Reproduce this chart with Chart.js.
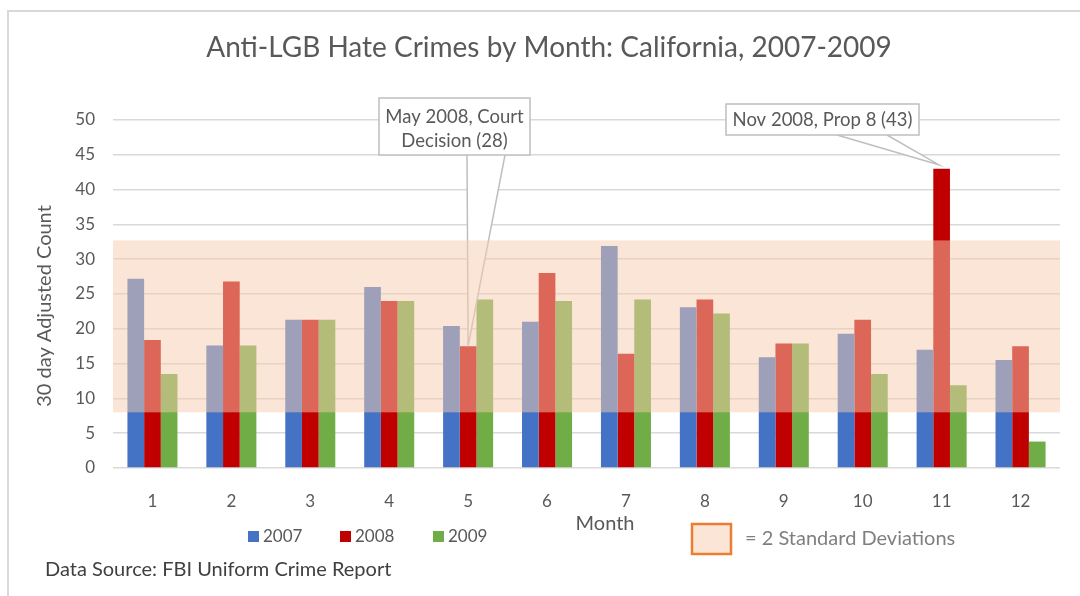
<!DOCTYPE html>
<html>
<head>
<meta charset="utf-8">
<script src="https://cdn.jsdelivr.net/npm/chart.js@4"></script>
<style>
  body { margin: 0; background: #fff; }
  canvas { display: block; }
</style>
</head>
<body>
<canvas id="chart" width="1080" height="596"></canvas>
<script>
// values
const months = ["1", "2", "3", "4", "5", "6", "7", "8", "9", "10", "11", "12"];
const counts2007 = [27.2, 17.6, 21.3, 26.0, 20.4, 21.0, 31.9, 23.1, 15.9, 19.3, 17.0, 15.5];
const counts2008 = [18.4, 26.8, 21.3, 24.0, 17.5, 28.0, 16.4, 24.2, 17.9, 21.3, 43.0, 17.5];
const counts2009 = [13.5, 17.6, 21.3, 24.0, 24.2, 24.0, 24.2, 22.2, 17.9, 13.5, 11.9, 3.8];
const bandLow = 8;
const bandHigh = 32.7;
const calloutText = [
  ["May 2008, Court", "Decision (28)"],
  ["Nov 2008, Prop 8 (43)"],
];
const calloutIndex = [4, 10];

const FONT = "Lato";
const GREY = "#595959";

const extras = {
  id: "extras",
  afterDatasetsDraw(chart) {
    const { ctx, chartArea: area, scales } = chart;
    const meta = chart.getDatasetMeta(1);

    // callouts (box + wedge pointing at the 2008 bar)
    const boxes = [
      { x: 379, y: 98, w: 151, h: 57, b1: 467, b2: 505, gap: 0, lineY: [117, 141] },
      { x: 726, y: 104, w: 193, h: 31, b1: 837, b2: 887, gap: 4, lineY: [120] },
    ];
    ctx.save();
    boxes.forEach((b, i) => {
      const bar = meta.data[calloutIndex[i]];
      const tipX = bar.x - (i === 1 ? 3 : 0);
      const tipY = bar.y - b.gap;
      ctx.beginPath();
      ctx.moveTo(b.b1, b.y + b.h - 1);
      ctx.lineTo(tipX, tipY);
      ctx.lineTo(b.b2, b.y + b.h - 1);
      ctx.closePath();
      ctx.fillStyle = "#fff";
      ctx.fill();
      ctx.beginPath();
      ctx.moveTo(b.b1, b.y + b.h);
      ctx.lineTo(tipX, tipY);
      ctx.lineTo(b.b2, b.y + b.h);
      ctx.strokeStyle = "#BFBFBF";
      ctx.lineWidth = 1.5;
      ctx.stroke();

      ctx.fillStyle = "#fff";
      ctx.fillRect(b.x, b.y, b.w, b.h);
      ctx.strokeRect(b.x, b.y, b.w, b.h);

      ctx.fillStyle = GREY;
      ctx.font = "18.5px " + FONT;
      ctx.textAlign = "center";
      ctx.textBaseline = "middle";
      calloutText[i].forEach((t, k) => ctx.fillText(t, b.x + b.w / 2, b.lineY[k]));
    });

    // 2 standard deviation band over the bars
    const top = scales.y.getPixelForValue(bandHigh);
    const bottom = scales.y.getPixelForValue(bandLow);
    ctx.fillStyle = "rgba(248, 203, 173, 0.5)";
    ctx.fillRect(area.left, top, area.right - area.left, bottom - top);
    ctx.restore();
  },
  afterDraw(chart) {
    const { ctx } = chart;
    ctx.save();
    ctx.textBaseline = "middle";

    // title
    ctx.textAlign = "center";
    ctx.fillStyle = GREY;
    ctx.font = "28px " + FONT;
    ctx.fillText("Anti-LGB Hate Crimes by Month: California, 2007-2009", 549, 48);

    // y axis title
    ctx.save();
    ctx.translate(45, 306);
    ctx.rotate(-Math.PI / 2);
    ctx.font = "20px " + FONT;
    ctx.fillText("30 day Adjusted Count", 0, 0);
    ctx.restore();

    // x axis title
    ctx.font = "20px " + FONT;
    ctx.fillText("Month", 605, 524);

    // series legend
    const legendX = [248, 340, 433];
    ctx.textAlign = "left";
    ctx.font = "17px " + FONT;
    chart.data.datasets.forEach((ds, i) => {
      ctx.fillStyle = ds.backgroundColor;
      ctx.fillRect(legendX[i], 531, 11, 11);
      ctx.fillStyle = GREY;
      ctx.fillText(ds.label, legendX[i] + 15, 537);
    });

    // band legend
    ctx.fillStyle = "#FBE5D6";
    ctx.fillRect(692, 524, 39, 30);
    ctx.strokeStyle = "#ED7D31";
    ctx.lineWidth = 2.5;
    ctx.strokeRect(692, 524, 39, 30);
    ctx.fillStyle = "#7F7F7F";
    ctx.font = "20px " + FONT;
    ctx.fillText("= 2 Standard Deviations", 745, 539);

    // source note
    ctx.fillStyle = "#404040";
    ctx.font = "20px " + FONT;
    ctx.fillText("Data Source: FBI Uniform Crime Report", 45, 570);

    // frame
    ctx.strokeStyle = "#D9D9D9";
    ctx.lineWidth = 2;
    ctx.beginPath();
    ctx.moveTo(8, 596);
    ctx.lineTo(8, 11);
    ctx.lineTo(1080, 11);
    ctx.stroke();
    ctx.restore();
  },
};

new Chart(document.getElementById("chart"), {
  type: "bar",
  data: {
    labels: months,
    datasets: [
      { label: "2007", data: counts2007, backgroundColor: "#4472C4" },
      { label: "2008", data: counts2008, backgroundColor: "#C00000" },
      { label: "2009", data: counts2009, backgroundColor: "#70AD47" },
    ],
  },
  options: {
    responsive: false,
    animation: false,
    events: [],
    layout: { padding: { left: 0, right: 20, top: 120, bottom: 88 } },
    datasets: {
      bar: { categoryPercentage: 0.634, barPercentage: 1.0 },
    },
    plugins: {
      legend: { display: false },
      tooltip: { enabled: false },
      title: { display: false },
    },
    scales: {
      x: {
        grid: { display: false },
        border: { display: false },
        ticks: { color: GREY, font: { family: FONT, size: 17 }, padding: 15 },
        afterFit: (scale) => {
          scale.height = 40;
        },
      },
      y: {
        min: 0,
        max: 50,
        grid: { color: "#D9D9D9", lineWidth: 1.5, drawTicks: false },
        border: { display: false },
        ticks: {
          stepSize: 5,
          color: GREY,
          font: { family: FONT, size: 17 },
          padding: 18,
        },
        afterFit: (scale) => {
          scale.width = 113;
        },
      },
    },
  },
  plugins: [extras],
});
</script>
</body>
</html>
